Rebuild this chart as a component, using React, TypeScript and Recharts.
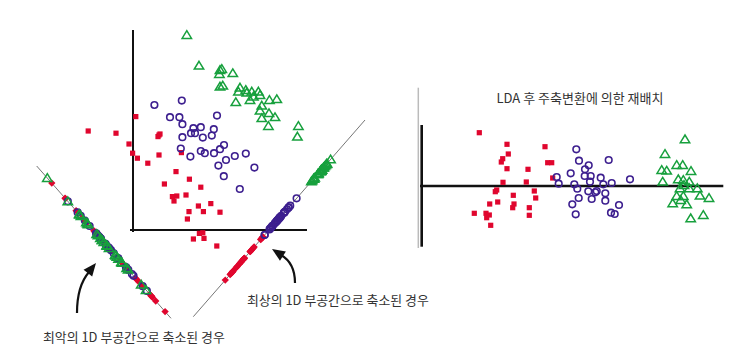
import React from "react";
import { ScatterChart, Scatter, XAxis, YAxis, ReferenceLine } from "recharts";

// 2-D samples before projection (units of the left plot axes)
const redPts: [number, number][] = [
  [-2.24, 4.95], [-0.85, 4.84], [0.14, 5.67], [-0.2, 4.3], [1.3, 4.75], [1.35, 4.8], [1.25, 4.67],
  [-0.02, 3.84], [0.22, 3.59], [1.3, 3.75], [2.42, 3.87], [0.74, 3.34], [2.15, 2.92], [2.82, 2.54],
  [1.57, 2.3], [3.39, 2.14], [2.65, 1.75], [1.97, 1.67], [2.19, 1.7], [2.05, 1.45], [3.27, 1.2],
  [3.89, 1.32], [2.8, 0.92], [3.52, 0.92], [4.35, 0.89], [2.72, 0.55], [3.32, -0.17], [3.49, -0.14],
  [3.55, -0.42], [3.02, -0.45], [4.19, -0.8],
];
const purplePts: [number, number][] = [
  [1.07, 6.25], [2.44, 6.47], [1.85, 5.64], [2.32, 5.64], [2.47, 5.29], [4.2, 5.72], [3.02, 5.09],
  [3.39, 5.14], [4.04, 5.04], [2.9, 4.84], [3.1, 4.84], [3.94, 4.72], [2.47, 4.64], [3.49, 4.62],
  [4.55, 4.25], [4.35, 4.04], [2.39, 4.07], [3.39, 3.95], [3.59, 3.84], [4.05, 3.84], [2.87, 3.67],
  [4.65, 3.5], [5.09, 3.7], [5.64, 3.82], [4.27, 3.22], [6.07, 3.12], [4.54, 2.69], [5.34, 2.05],
];
const greenPts: [number, number][] = [
  [2.69, 9.75], [3.3, 8.22], [4.35, 8.0], [4.44, 8.05], [4.32, 7.8], [4.99, 7.84], [4.35, 7.17],
  [4.49, 7.22], [5.35, 7.12], [5.27, 6.92], [5.64, 7.0], [5.69, 6.87], [5.94, 6.92], [6.27, 6.92],
  [6.35, 6.75], [6.02, 6.67], [5.85, 6.5], [5.14, 6.39], [6.82, 6.5], [7.19, 6.54], [6.44, 6.22],
  [6.35, 5.97], [6.44, 5.59], [6.8, 5.84], [7.1, 5.64], [6.77, 5.2], [8.27, 5.2], [8.22, 4.67],
];

// after LDA rotation
const ldaRed: [number, number][] = [
  [5.76, 5.33], [8.53, 4.17], [8.66, 3.2], [8.1, 2.73], [7.96, 2.4], [8.53, 1.73], [12.33, 3.93],
  [12.6, 2.33], [13.0, 2.33], [10.63, 1.67], [13.1, 0.8], [8.13, 0.37], [10.46, 0.4], [7.5, -0.4],
  [7.36, -0.57], [11.26, -0.5], [9.16, -0.93], [11.4, -1.2], [7.6, -1.6], [6.8, -1.8], [9.23, -1.8],
  [9.1, -2.17], [10.76, -2.17], [5.26, -2.73], [6.43, -2.73], [6.76, -2.9], [6.5, -3.17],
  [10.76, -2.93], [6.9, -3.93],
];
const ldaPurple: [number, number][] = [
  [15.46, 3.67], [15.73, 2.53], [18.7, 2.6], [16.7, 2.07], [16.33, 1.67], [14.9, 1.27], [16.3, 1.0],
  [16.9, 1.0], [13.5, 0.9], [17.9, 0.83], [16.83, 0.43], [20.83, 0.67], [13.7, 0.23], [15.26, 0.17],
  [18.16, 0.17], [19.0, 0.3], [15.56, -0.27], [16.66, -0.53], [17.36, -0.63], [17.5, -0.5],
  [18.36, -0.73], [15.7, -1.2], [17.0, -1.3], [18.36, -1.47], [15.06, -1.83], [19.73, -1.9],
  [15.4, -2.83], [18.93, -2.67], [19.3, -2.8],
];
const ldaGreen: [number, number][] = [
  [26.33, 4.67], [24.33, 3.2], [25.5, 2.1], [26.1, 2.1], [24.0, 1.6], [24.5, 1.53], [26.93, 1.5],
  [24.1, 0.43], [25.66, 0.67], [26.16, 0.6], [26.76, 0.43], [26.23, 0.1], [25.83, -0.23],
  [26.76, -0.23], [27.56, -0.23], [27.83, -0.97], [28.73, -1.2], [25.5, -1.0], [26.16, -1.0],
  [25.1, -1.73], [25.9, -1.4], [26.5, -1.83], [26.9, -3.23], [28.16, -2.9],
];

// the two 1-D subspaces drawn next to the scatter
const worstLine = { from: [-4.815, 3.2], to: [1.9, -4.415], shift: 0.75 };
const bestLine = { from: [3.015, -4.335], to: [11.6, 5.5], shift: -0.5 };

const RED = "#e0062e";
const PURPLE = "#3d1f8f";
const GREEN = "#17a03d";
const FONT = "'Noto Sans CJK KR', 'Noto Sans', sans-serif";

const toObj = (pts: [number, number][]) => pts.map(([x, y]) => ({ x, y }));

function project(pts: [number, number][], line: any) {
  const [x0, y0] = line.from;
  const [x1, y1] = line.to;
  const len = Math.hypot(x1 - x0, y1 - y0);
  const ux = (x1 - x0) / len;
  const uy = (y1 - y0) / len;
  return pts.map(([x, y]) => {
    const s = (x - x0) * ux + (y - y0) * uy + line.shift;
    return { x: x0 + s * ux, y: y0 + s * uy };
  });
}

const square = (rot: number) => (p: any) => (
  <rect x={p.cx - 2.6} y={p.cy - 2.6} width={5.2} height={5.2} fill={RED}
    transform={rot ? `rotate(${rot} ${p.cx} ${p.cy})` : undefined} />
);
const ring = (p: any) => (
  <circle cx={p.cx} cy={p.cy} r={3.3} fill="none" stroke={PURPLE} strokeWidth={1.6} />
);
const tri = (p: any) => (
  <polygon
    points={`${p.cx},${p.cy - 4.3} ${p.cx + 4.7},${p.cy + 3.4} ${p.cx - 4.7},${p.cy + 3.4}`}
    fill="none" stroke={GREEN} strokeWidth={1.5} />
);

function seg(a: number[], b: number[]) {
  return [{ x: a[0], y: a[1] }, { x: b[0], y: b[1] }];
}

function Arrow({ d, tip, dir }: { d: string; tip: [number, number]; dir: [number, number] }) {
  const l = Math.hypot(dir[0], dir[1]);
  const ux = dir[0] / l, uy = dir[1] / l;
  const bx = tip[0] - ux * 13, by = tip[1] - uy * 13;
  const px = -uy * 5.5, py = ux * 5.5;
  return (
    <g>
      <path d={d} fill="none" stroke="#111" strokeWidth={2.2} />
      <polygon points={`${tip[0]},${tip[1]} ${bx + px},${by + py} ${bx - px},${by - py}`} fill="#111" />
    </g>
  );
}

export default function App() {
  const axis = { type: "number" as const, dataKey: "x", hide: true, allowDataOverflow: true };
  return (
    <div style={{ position: "absolute", left: 0, top: 0, width: 750, height: 352, background: "#fff", fontFamily: FONT }}>
      <div style={{ position: "absolute", left: 0, top: 0 }}>
        <ScatterChart width={400} height={352} margin={{ top: 0, right: 0, bottom: 0, left: 0 }}>
          <XAxis {...axis} domain={[-6.65, 13.35]} />
          <YAxis type="number" dataKey="y" hide allowDataOverflow domain={[-6.1, 11.5]} />
          <ReferenceLine segment={seg(worstLine.from, worstLine.to)} stroke="#666" strokeWidth={0.9} />
          <ReferenceLine segment={seg(bestLine.from, bestLine.to)} stroke="#666" strokeWidth={0.9} />
          <ReferenceLine segment={seg([0, -0.1], [0, 10])} stroke="#111" strokeWidth={2} />
          <ReferenceLine segment={seg([-0.15, 0], [8.7, 0])} stroke="#111" strokeWidth={2} />
          <Scatter data={toObj(redPts)} shape={square(0)} isAnimationActive={false} />
          <Scatter data={toObj(purplePts)} shape={ring} isAnimationActive={false} />
          <Scatter data={toObj(greenPts)} shape={tri} isAnimationActive={false} />
          <Scatter data={project(redPts, worstLine)} shape={square(45)} isAnimationActive={false} />
          <Scatter data={project(purplePts, worstLine)} shape={ring} isAnimationActive={false} />
          <Scatter data={project(greenPts, worstLine)} shape={tri} isAnimationActive={false} />
          <Scatter data={project(redPts, bestLine)} shape={square(45)} isAnimationActive={false} />
          <Scatter data={project(purplePts, bestLine)} shape={ring} isAnimationActive={false} />
          <Scatter data={project(greenPts, bestLine)} shape={tri} isAnimationActive={false} />
        </ScatterChart>
      </div>
      <div style={{ position: "absolute", left: 410, top: 75 }}>
        <ScatterChart width={330} height={190} margin={{ top: 0, right: 0, bottom: 0, left: 0 }}>
          <XAxis {...axis} domain={[-1.17, 31.83]} />
          <YAxis type="number" dataKey="y" hide allowDataOverflow domain={[-7.9, 11.1]} />
          <ReferenceLine segment={seg([-0.34, 9.83], [-0.34, -6.2])} stroke="#bbb" strokeWidth={1.5} />
          <ReferenceLine segment={seg([0, 6.1], [0, -6.07])} stroke="#111" strokeWidth={2.6} />
          <ReferenceLine segment={seg([-0.17, 0], [30.16, 0])} stroke="#111" strokeWidth={2.6} />
          <Scatter data={toObj(ldaRed)} shape={square(0)} isAnimationActive={false} />
          <Scatter data={toObj(ldaPurple)} shape={ring} isAnimationActive={false} />
          <Scatter data={toObj(ldaGreen)} shape={tri} isAnimationActive={false} />
        </ScatterChart>
      </div>
      <svg width={750} height={352} style={{ position: "absolute", left: 0, top: 0, pointerEvents: "none" }}>
        <Arrow d="M 77 313 Q 77 286 89 272" tip={[96, 263]} dir={[12, -15]} />
        <Arrow d="M 295 283 Q 295 263 281 255" tip={[272, 249]} dir={[-14, -9]} />
        <text x={580} y={103} textAnchor="middle" fontSize={13} fill="#333" fontFamily={FONT}>LDA 후 주축변환에 의한 재배치</text>
        <text x={43} y={341.5} fontSize={12.9} fill="#333" fontFamily={FONT}>최악의 1D 부공간으로 축소된 경우</text>
        <text x={247} y={304.5} fontSize={12.9} fill="#333" fontFamily={FONT}>최상의 1D 부공간으로 축소된 경우</text>
      </svg>
    </div>
  );
}
